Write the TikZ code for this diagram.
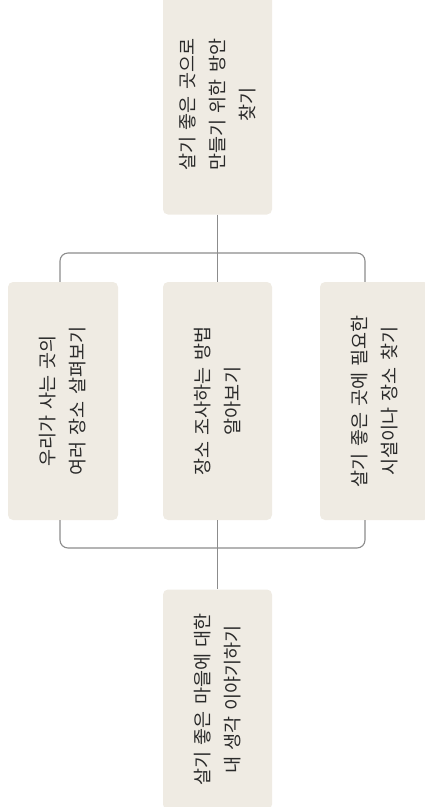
\documentclass[tikz,border=0pt]{standalone}
\usepackage{fontspec}
\setmainfont{Noto Sans CJK KR}
\usepackage{graphicx}
\definecolor{boxfill}{HTML}{EFEBE3}
\definecolor{linegray}{HTML}{8C8C8C}
\definecolor{txt}{HTML}{2A2A2A}
\tikzset{
  box/.style={fill=boxfill, rounded corners=5pt, minimum width=109pt, inner sep=0pt, text=txt},
  link/.style={draw=linegray, line width=1.1pt},
}
\newcommand\vtext[1]{\rotatebox{90}{\begin{minipage}{220pt}\centering\fontsize{18.5}{30}\selectfont\spaceskip=0.34em\relax #1\end{minipage}}}
\begin{document}
\begin{tikzpicture}[x=1pt,y=-1pt]
\useasboundingbox (0,0) rectangle (425,807);
\node[box, minimum height=205pt] (goal) at (217.5,104.5) {\vtext{살기 좋은 곳으로\\만들기 위한 방안\\찾기}};
\node[box, minimum width=110pt, minimum height=238pt] (a) at (63,401) {\vtext{우리가 사는 곳의\\여러 장소 살펴보기}};
\node[box, minimum height=238pt] (b) at (217.5,401) {\vtext{장소 조사하는 방법\\알아보기}};
\node[box, minimum height=238pt] (c) at (374.5,401) {\vtext{살기 좋은 곳에 필요한\\시설이나 장소 찾기}};
\node[box, minimum height=205pt] (d) at (217.5,699.5) {\vtext{살기 좋은 마을에 대한\\내 생각 이야기하기}};
\coordinate (bl) at (60,253);
\coordinate (br) at (365,253);
\coordinate (bbl) at (60,548);
\coordinate (bbr) at (365,548);
\draw[link] (goal.south) -- (b.north);
\draw[link] (b.south) -- (d.north);
\draw[link, rounded corners=8pt] (a.north -| bl) -- (bl) -- (br) -- (c.north -| br);
\draw[link, rounded corners=8pt] (a.south -| bbl) -- (bbl) -- (bbr) -- (c.south -| bbr);
\end{tikzpicture}
\end{document}
